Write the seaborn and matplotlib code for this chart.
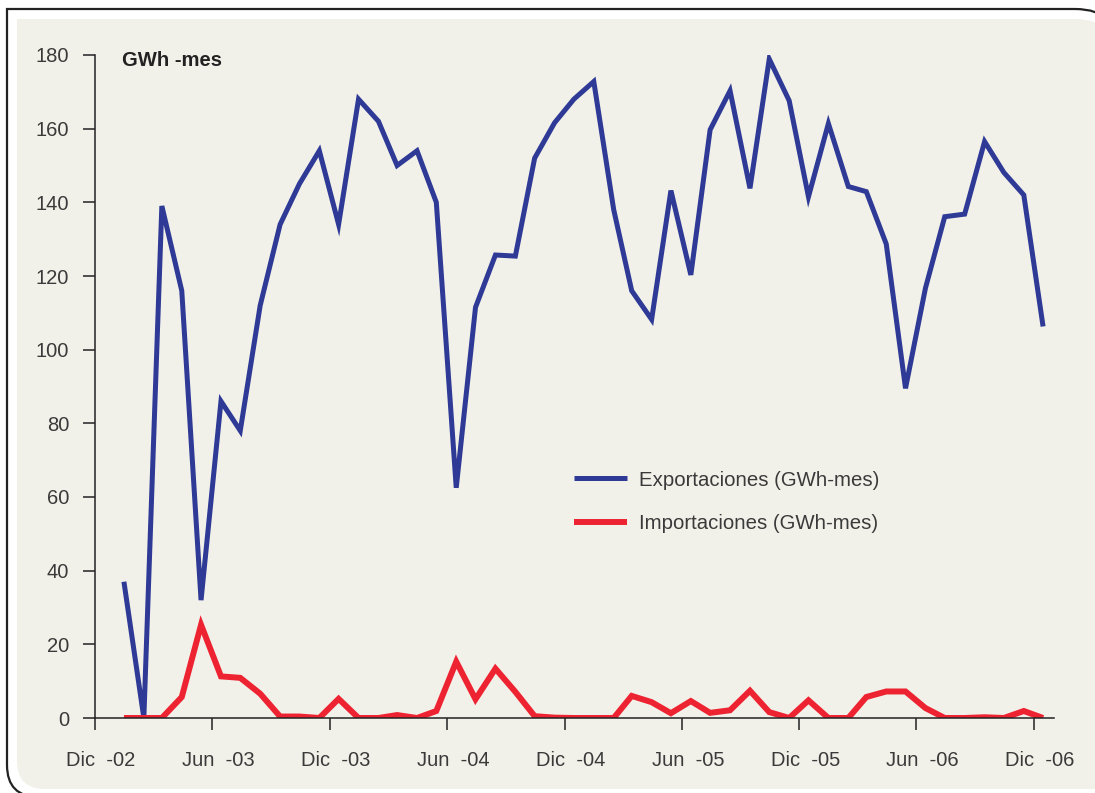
import numpy as np
import pandas as pd
import seaborn as sns
import matplotlib.pyplot as plt
import matplotlib.transforms as mtransforms
from matplotlib.path import Path
from matplotlib.patches import PathPatch

# monthly values, Jan 2003 - Dec 2006 (GWh-mes)
exportaciones = [37, 0, 139, 116, 32, 86, 78, 112, 134, 145, 154, 134,
                 168, 162, 150, 154, 140, 62.5, 111.5, 125.7, 125.4, 152, 161.6, 168,
                 172.8, 138, 116, 108.2, 143.2, 120.3, 159.7, 170.3, 143.8, 178.9, 167.6, 141.5,
                 161.4, 144.3, 142.9, 128.7, 89.5, 116.7, 136.1, 136.8, 156.5, 148.1, 142, 106.3]
importaciones = [0, 0, 0, 5.7, 25.3, 11.3, 10.9, 6.6, 0.4, 0.4, 0, 5.2,
                 0, 0, 0.8, 0, 1.9, 15.3, 5.1, 13.4, 7.1, 0.5, 0.1, 0,
                 0, 0, 6, 4.3, 1.3, 4.6, 1.4, 2.1, 7.4, 1.6, 0, 4.8,
                 0, 0, 5.7, 7.2, 7.2, 2.7, 0, 0, 0.2, 0, 1.9, 0]
meses = pd.date_range("2003-01-01", periods=48, freq="MS") + pd.Timedelta(days=14)

tick_dates = pd.to_datetime(["2002-12-01", "2003-06-01", "2003-12-01", "2004-06-01",
                             "2004-12-01", "2005-06-01", "2005-12-01", "2006-06-01",
                             "2006-12-01"])
tick_labels = ["Dic  -02", "Jun  -03", "Dic  -03", "Jun  -04", "Dic  -04",
               "Jun  -05", "Dic  -05", "Jun  -06", "Dic  -06"]

df = pd.DataFrame({"mes": meses, "Exportaciones": exportaciones,
                   "Importaciones": importaciones})

sns.set_theme(style="ticks")
plt.rcParams["font.family"] = ["Liberation Sans", "DejaVu Sans"]

W, H = 1095, 793
fig = plt.figure(figsize=(W / 100, H / 100), dpi=100)
fig.patch.set_facecolor("white")


def frame_path(left, top, right, bottom, r_tr, r_bl):
    # pixel coords, y down -> figure fraction
    pts = [(left, top), (right - r_tr, top), (right, top), (right, top + r_tr),
           (right, bottom), (left + r_bl, bottom), (left, bottom), (left, bottom - r_bl),
           (left, top)]
    codes = [Path.MOVETO, Path.LINETO, Path.CURVE3, Path.CURVE3,
             Path.LINETO, Path.LINETO, Path.CURVE3, Path.CURVE3, Path.CLOSEPOLY]
    pts = [(x / W, 1 - y / H) for x, y in pts]
    return Path(pts, codes)


fig.add_artist(PathPatch(frame_path(7, 9, 1120, 797, 45, 32), facecolor="white",
                         edgecolor="#222222", lw=1.6, transform=fig.transFigure, zorder=-3))
fig.add_artist(PathPatch(frame_path(17, 19, 1117, 789, 42, 28), facecolor="#F2F1E9",
                         edgecolor="none", transform=fig.transFigure, zorder=-2))

ax = fig.add_axes([95 / W, 1 - 718 / H, (1054 - 95) / W, (718 - 55) / H])
ax.set_facecolor("none")

sns.lineplot(data=df, x="mes", y="Exportaciones", ax=ax, color="#2E3A96", lw=3.6,
             label="Exportaciones (GWh-mes)", solid_joinstyle="miter", solid_capstyle="butt")
sns.lineplot(data=df, x="mes", y="Importaciones", ax=ax, color="#EE2332", lw=4.3,
             label="Importaciones (GWh-mes)", solid_joinstyle="miter", solid_capstyle="butt")

ax.set_xlim(pd.Timestamp("2002-12-01"), pd.Timestamp("2007-01-01"))
ax.set_ylim(0, 180)
ax.set_yticks(np.arange(0, 181, 20))
ax.set_xticks(tick_dates)
ax.set_xticklabels(tick_labels)
ax.set_xlabel("")
ax.set_ylabel("")

for s in ["top", "right"]:
    ax.spines[s].set_visible(False)
for s in ["left", "bottom"]:
    ax.spines[s].set_color("#222222")
    ax.spines[s].set_linewidth(1.1)
ax.tick_params(axis="both", length=8.6, width=1.1, color="#222222",
               labelsize=14.5, labelcolor="#3a3a3a")
ax.tick_params(axis="x", pad=15)
ax.tick_params(axis="y", pad=10)

# labels sit a little right of their ticks in the original
shift = mtransforms.ScaledTranslation(6 / 100, 0, fig.dpi_scale_trans)
for lab in ax.get_xticklabels():
    lab.set_transform(lab.get_transform() + shift)

ax.text(0.028, 0.992, "GWh -mes", transform=ax.transAxes, fontsize=14.6,
        fontweight="bold", color="#222222", va="center", ha="left")

ax.legend(loc="center left", bbox_to_anchor=(0.4885, 0.326), frameon=False,
          fontsize=14.7, handlelength=2.6, handletextpad=0.6, labelspacing=1.2,
          borderpad=0, labelcolor="#3a3a3a")

fig.savefig("out.png", dpi=100)
